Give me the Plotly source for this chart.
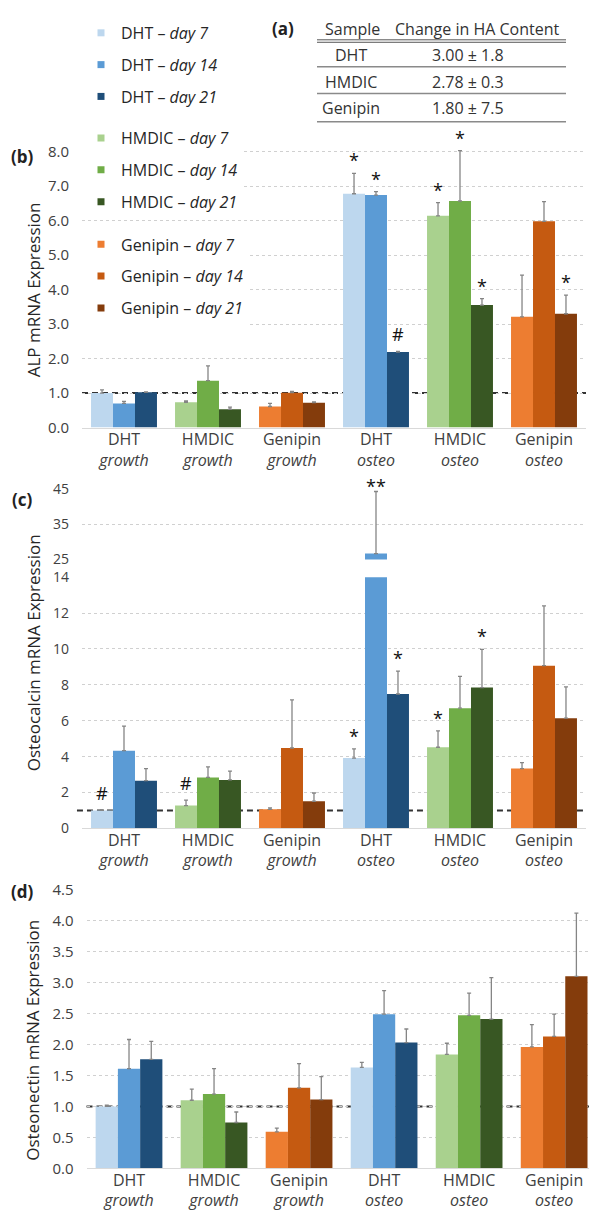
import plotly.graph_objects as go

W, H = 589, 1217
FONT = "Open Sans"


def fx(p):
    return p / W


def fy(p):
    return 1 - p / H


# ---------------- data ----------------
materials = ["DHT", "HMDIC", "Genipin"]
conditions = ["growth", "osteo"]
days = ["day 7", "day 14", "day 21"]
categories = [f"{m}<br><i>{c}</i>" for c in conditions for m in materials]

# series order: DHT d7, d14, d21, HMDIC d7, d14, d21, Genipin d7, d14, d21
# each pair = [growth, osteo]
alp_mean = [[1.00, 6.78], [0.70, 6.74], [1.02, 2.19],
            [0.73, 6.14], [1.36, 6.57], [0.53, 3.55],
            [0.61, 3.21], [1.01, 5.98], [0.72, 3.30]]
alp_err = [[0.09, 0.59], [0.06, 0.10], [0.01, 0.02],
           [0.04, 0.38], [0.43, 1.46], [0.06, 0.19],
           [0.09, 1.21], [0.04, 0.57], [0.02, 0.54]]
alp_sig = [["", "*"], ["", "*"], ["", "#"],
           ["", "*"], ["", "*"], ["", "*"],
           ["", ""], ["", ""], ["", "*"]]

ocn_mean = [[1.00, 3.92], [4.33, 26.7], [2.66, 7.49],
            [1.27, 4.52], [2.84, 6.70], [2.70, 7.85],
            [1.06, 3.33], [4.48, 9.07], [1.51, 6.14]]
ocn_err = [[0.03, 0.51], [1.37, 17.6], [0.67, 1.27],
           [0.30, 0.91], [0.59, 1.77], [0.49, 2.13],
           [0.08, 0.33], [2.68, 3.33], [0.46, 1.75]]
ocn_sig = [["#", "*"], ["", "**"], ["", "*"],
           ["#", "*"], ["", ""], ["", "*"],
           ["", ""], ["", ""], ["", ""]]

onc_mean = [[1.00, 1.63], [1.61, 2.49], [1.76, 2.03],
            [1.10, 1.84], [1.20, 2.47], [0.74, 2.41],
            [0.59, 1.96], [1.30, 2.13], [1.11, 3.10]]
onc_err = [[0.02, 0.08], [0.47, 0.38], [0.29, 0.22],
           [0.18, 0.18], [0.41, 0.36], [0.17, 0.67],
           [0.06, 0.36], [0.39, 0.36], [0.37, 1.02]]

table_samples = ["DHT", "HMDIC", "Genipin"]
table_values = ["3.00 ± 1.8", "2.78 ± 0.3", "1.80 ± 7.5"]

colors = ["#BDD7EE", "#5B9BD5", "#1F4E79",
          "#A9D18E", "#70AD47", "#385723",
          "#ED7D31", "#C55A11", "#843C0C"]

BARGAP = 0.215
BW = (1 - BARGAP) / 3
TXT = "#404040"
GRID = "#d0d0d0"

fig = go.Figure()
annotations = []
shapes = []


def add_panel(means, errs, xa, ya, lo=None, hi=None):
    for i in range(9):
        m, d = divmod(i, 3)
        xs = [categories[m], categories[3 + m]]
        ys = list(means[i])
        es = list(errs[i])
        if lo is not None:
            ys = [v if v > lo else None for v in ys]
        if hi is not None:
            es = [e if v <= hi else 0 for v, e in zip(means[i], es)]
        fig.add_trace(go.Bar(
            x=xs, y=ys, xaxis=xa, yaxis=ya,
            offsetgroup=str(d), marker=dict(color=colors[i], line=dict(width=0)),
            error_y=dict(type="data", array=es, arrayminus=[0] * len(es), symmetric=False,
                         visible=True, color="#858585", thickness=1.3, width=2),
            showlegend=False, hoverinfo="skip"))


def add_sig(means, errs, sigs, xref, yref, cond=None, lift=13):
    for i in range(9):
        m, d = divmod(i, 3)
        for c in range(2):
            s = sigs[i][c]
            if not s:
                continue
            top = means[i][c] + errs[i][c]
            if cond is not None and not cond(top):
                continue
            annotations.append(dict(
                x=3 * c + m + (d - 1) * BW, y=top, xref=xref, yref=yref,
                text=s, showarrow=False, yanchor="middle",
                yshift=lift + 4 if s == "#" else lift,
                font=dict(size=18, color="#111111", family=FONT)))


# panel (b)
add_panel(alp_mean, alp_err, "x", "y")
add_sig(alp_mean, alp_err, alp_sig, "x", "y")
# panel (c): lower and upper part of the broken axis
add_panel(ocn_mean, ocn_err, "x2", "y2", hi=14)
add_panel(ocn_mean, ocn_err, "x2", "y3", lo=25)
add_sig(ocn_mean, ocn_err, ocn_sig, "x2", "y2", cond=lambda t: t <= 14)
add_sig(ocn_mean, ocn_err, ocn_sig, "x2", "y3", cond=lambda t: t > 25, lift=5)
# panel (d)
add_panel(onc_mean, onc_err, "x3", "y4")

# legend-only markers
legend_names = ["legend", "legend2", "legend3"]
for i in range(9):
    m, d = divmod(i, 3)
    fig.add_trace(go.Scatter(
        x=[None], y=[None], mode="markers", xaxis="x", yaxis="y",
        marker=dict(symbol="square", size=7, color=colors[i]),
        name=f"{materials[m]} – <i>{days[d]}</i>",
        legend=legend_names[m], legendgroup=f"g{i}", showlegend=True))

# reference dashed lines at 1.0
for xr, yr, x0 in [("x domain", "y", 0), ("x2 domain", "y2", -0.01), ("x3 domain", "y4", 0)]:
    shapes.append(dict(type="line", xref=xr, yref=yr, x0=x0, x1=1, y0=1, y1=1,
                       layer="below", line=dict(color="#333333", width=2, dash="6px,4px")))

# table (a)
tl, tr = 317, 566
shapes += [
    dict(type="line", xref="paper", yref="paper", x0=fx(tl), x1=fx(tr), y0=fy(29.3), y1=fy(29.3),
         line=dict(color="#555555", width=1)),
    dict(type="line", xref="paper", yref="paper", x0=fx(tl), x1=fx(tr), y0=fy(31.8), y1=fy(31.8),
         line=dict(color="#555555", width=1)),
]
for yy in [56.7, 84.0, 112.7]:
    shapes.append(dict(type="line", xref="paper", yref="paper", x0=fx(tl), x1=fx(tr),
                       y0=fy(yy), y1=fy(yy), line=dict(color="#8a8a8a", width=1.5)))


def txt(x, y, s, size=16, bold=False, color="#333333", angle=0):
    annotations.append(dict(x=fx(x), y=fy(y), xref="paper", yref="paper",
                            text=(f"<b>{s}</b>" if bold else s),
                            showarrow=False, xanchor="center", yanchor="middle", textangle=angle,
                            font=dict(size=size, color=color, family=FONT)))


txt(283, 18, "(a)", 17, bold=True, color="#222222")
txt(352, 18.5, "Sample", 16)
txt(477, 18.5, "Change in HA Content", 16)
for k, (s, v) in enumerate(zip(table_samples, table_values)):
    yy = [45, 71.7, 98.3][k]
    txt(351, yy, s, 16)
    txt(468, yy, v, 16)

# panel labels and y titles
txt(22, 148, "(b)", 17, bold=True, color="#222222")
txt(22, 497, "(c)", 17, bold=True, color="#222222")
txt(22, 895, "(d)", 17, bold=True, color="#222222")
txt(33, 284, "ALP mRNA Expression", 17, color="#262626", angle=-90)
txt(33, 653, "Osteocalcin mRNA Expression", 17, color="#262626", angle=-90)
txt(33, 1047, "Osteonectin mRNA Expression", 17, color="#262626", angle=-90)

# ---------------- axes ----------------
xcommon = dict(type="category", categoryorder="array", categoryarray=categories,
               showgrid=False, showline=True, linecolor="#d9d9d9", linewidth=1,
               ticks="", ticklabelstandoff=-3,
               tickfont=dict(size=16, color=TXT, family=FONT), zeroline=False)
ycommon = dict(showgrid=True, gridcolor=GRID, griddash="dot", gridwidth=1, zeroline=False,
               showline=False, ticks="", ticklabelstandoff=12,
               tickfont=dict(size=15, color=TXT, family=FONT))

ub = 35.06
fig.update_layout(
    xaxis=dict(xcommon, domain=[fx(82), fx(586)], anchor="y", range=[-0.5, 5.5]),
    yaxis=dict(ycommon, domain=[fy(423.5), fy(423.5 - 8.1 * ub)], range=[0, 8.1],
               tickvals=[0, 1, 2, 3, 4, 5, 6, 7, 8], tickformat=".1f", anchor="x"),
    xaxis2=dict(xcommon, domain=[fx(82), fx(586)], anchor="y2", range=[-0.5, 5.5]),
    yaxis2=dict(ycommon, domain=[fy(831), fy(575.7)], range=[0, 14], dtick=2, anchor="x2",
                tickfont=dict(size=14, color=TXT, family=FONT)),
    yaxis3=dict(ycommon, domain=[fy(557.7), fy(486)], range=[25, 45], tickvals=[25, 35, 45],
                anchor="x2", tickfont=dict(size=14, color=TXT, family=FONT)),
    xaxis3=dict(xcommon, domain=[fx(86.5), 1], anchor="y4", range=[-0.5, 5.41]),
    yaxis4=dict(ycommon, domain=[fy(1176.7), fy(893.3)], range=[0, 4.5], dtick=0.5,
                tickformat=".1f", anchor="x3"),
)

legend_common = dict(xanchor="left", yanchor="top", bgcolor="white", borderwidth=0,
                     font=dict(size=16, color="#262626", family=FONT), traceorder="grouped",
                     tracegroupgap=8, itemwidth=30)
fig.update_layout(
    legend=dict(legend_common, x=fx(81), y=fy(5)),
    legend2=dict(legend_common, x=fx(81), y=fy(112)),
    legend3=dict(legend_common, x=fx(81), y=fy(220)),
)

fig.update_layout(
    width=W, height=H, autosize=False,
    margin=dict(l=0, r=0, t=0, b=0),
    paper_bgcolor="white", plot_bgcolor="white",
    barmode="group", bargap=BARGAP, bargroupgap=0,
    font=dict(family=FONT, color=TXT),
    annotations=annotations, shapes=shapes,
)

fig.write_html(
    "out.html",
    config={"displayModeBar": False},
    post_script="document.body.style.margin='0';document.body.style.padding='0';"
                "document.documentElement.style.overflow='hidden';",
)
